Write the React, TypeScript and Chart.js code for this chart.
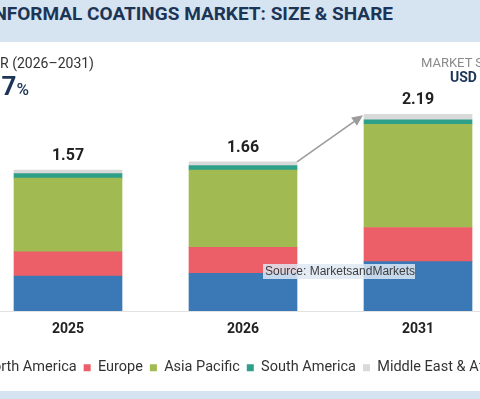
import { useEffect, useRef } from "react";
import { Chart, registerables } from "chart.js";

Chart.register(...registerables);

// Market size by region, USD billion
const years = ["2025", "2026", "2031"];
const regionNames = ["North America", "Europe", "Asia Pacific", "South America", "Middle East & Africa"];
const northAmerica = [0.39, 0.42, 0.55];
const europe = [0.27, 0.29, 0.38];
const asiaPacific = [0.82, 0.86, 1.15];
const southAmerica = [0.05, 0.05, 0.05];
const middleEastAfrica = [0.04, 0.04, 0.06];
const regionColors = ["#3a78b6", "#ec5f68", "#a1bb52", "#2e9f88", "#d9d9d9"];

const cagrText = "5.7";
const FONT = "Roboto, 'Noto Sans', sans-serif";

// Totals above each stack plus the growth arrow between 2026 and 2031
const totalsPlugin = {
  id: "stackTotals",
  afterDatasetsDraw(chart: any) {
    const { ctx } = chart;
    const x = chart.scales.x;
    const y = chart.scales.y;
    const barW = chart.getDatasetMeta(0).data[0].width;
    const totals = years.map((_, i) =>
      chart.data.datasets.reduce((s: number, d: any) => s + d.data[i], 0)
    );
    ctx.save();
    ctx.font = `bold 16px ${FONT}`;
    ctx.fillStyle = "#222222";
    ctx.textAlign = "center";
    ctx.textBaseline = "alphabetic";
    totals.forEach((t: number, i: number) => {
      ctx.fillText(t.toFixed(2), x.getPixelForValue(i), y.getPixelForValue(t) - 10);
    });

    const x0 = x.getPixelForValue(1) + barW / 2;
    const y0 = y.getPixelForValue(totals[1]);
    const x1 = x.getPixelForValue(2) - barW / 2 - 1;
    const y1 = y.getPixelForValue(totals[2]) + 1;
    const ang = Math.atan2(y1 - y0, x1 - x0);
    const head = 11;
    const half = 5;
    const bx = x1 - head * Math.cos(ang);
    const by = y1 - head * Math.sin(ang);
    ctx.strokeStyle = "#9c9c9c";
    ctx.fillStyle = "#9c9c9c";
    ctx.lineWidth = 1.6;
    ctx.beginPath();
    ctx.moveTo(x0, y0);
    ctx.lineTo(bx, by);
    ctx.stroke();
    ctx.beginPath();
    ctx.moveTo(x1, y1);
    ctx.lineTo(bx + half * Math.sin(ang), by - half * Math.cos(ang));
    ctx.lineTo(bx - half * Math.sin(ang), by + half * Math.cos(ang));
    ctx.closePath();
    ctx.fill();
    ctx.restore();
  },
};

function MarketChart() {
  const canvasRef = useRef<HTMLCanvasElement | null>(null);

  useEffect(() => {
    if (!canvasRef.current) return;
    const series = [northAmerica, europe, asiaPacific, southAmerica, middleEastAfrica];
    const chart = new Chart(canvasRef.current, {
      type: "bar",
      data: {
        labels: years,
        datasets: series.map((data, i) => ({
          label: regionNames[i],
          data,
          backgroundColor: regionColors[i],
          borderWidth: 0,
          barThickness: 108,
        })),
      },
      options: {
        animation: false,
        responsive: false,
        maintainAspectRatio: false,
        layout: { padding: { top: 44.5, bottom: 0, left: 0, right: 0 } },
        plugins: {
          legend: {
            position: "bottom",
            labels: {
              boxWidth: 7,
              boxHeight: 7,
              padding: 7,
              color: "#333333",
              font: { family: FONT, size: 14.5 },
            },
          },
          tooltip: { enabled: false },
        },
        scales: {
          x: {
            stacked: true,
            grid: { display: true, drawOnChartArea: false, drawTicks: false },
            border: { display: true, color: "#e2e2e2", width: 1 },
            ticks: {
              color: "#222222",
              padding: 10,
              font: { family: FONT, size: 14, weight: "bold" },
            },
            afterFit: (s: any) => {
              s.height = 42.5;
            },
          },
          y: {
            stacked: true,
            min: 0,
            max: 2.5,
            ticks: { display: false },
            grid: { display: false },
            border: { display: false },
            afterFit: (s: any) => {
              s.width = 92.5;
            },
          },
          yRight: {
            type: "linear",
            position: "right",
            min: 0,
            max: 2.5,
            ticks: { display: false },
            grid: { display: false },
            border: { display: false },
            afterFit: (s: any) => {
              s.width = 82.5;
            },
          },
        },
      } as any,
      plugins: [totalsPlugin],
    });
    return () => chart.destroy();
  }, []);

  return (
    <canvas
      ref={canvasRef}
      width={700}
      height={343}
      style={{ position: "absolute", left: -112, top: 42, width: 700, height: 343 }}
    />
  );
}

export default function App() {
  const navy = "#1c3557";
  return (
    <div
      style={{
        position: "fixed",
        left: 0,
        top: 0,
        width: 480,
        height: 399,
        overflow: "hidden",
        background: "#ffffff",
        fontFamily: FONT,
      }}
    >
      <div style={{ position: "absolute", left: 0, top: 0, width: 480, height: 42, background: "#d6e4f1" }} />
      <div
        style={{
          position: "absolute",
          right: 87,
          top: 4,
          whiteSpace: "nowrap",
          fontSize: 19,
          lineHeight: "19px",
          fontWeight: 700,
          color: navy,
        }}
      >
        CONFORMAL COATINGS MARKET: SIZE &amp; SHARE
      </div>

      <MarketChart />

      <div
        style={{
          position: "absolute",
          right: 386,
          top: 56,
          whiteSpace: "nowrap",
          fontSize: 14,
          lineHeight: "14px",
          color: "#333333",
        }}
      >
        CAGR (2026–2031)
      </div>
      <div
        style={{
          position: "absolute",
          right: 451,
          top: 73,
          whiteSpace: "nowrap",
          fontSize: 26,
          lineHeight: "26px",
          fontWeight: 700,
          color: navy,
        }}
      >
        {cagrText}
        <span style={{ fontSize: 17, fontWeight: 500 }}>%</span>
      </div>

      <div
        style={{
          position: "absolute",
          left: 421,
          top: 56,
          whiteSpace: "nowrap",
          fontSize: 13,
          lineHeight: "13px",
          color: "#8a8a8a",
        }}
      >
        MARKET SIZE
      </div>
      <div
        style={{
          position: "absolute",
          left: 450,
          top: 70,
          whiteSpace: "nowrap",
          fontSize: 14,
          lineHeight: "14px",
          fontWeight: 700,
          color: navy,
        }}
      >
        USD BN
      </div>

      <div
        style={{
          position: "absolute",
          left: 263,
          top: 264,
          width: 150,
          height: 15,
          paddingLeft: 2,
          whiteSpace: "nowrap",
          fontFamily: "'Liberation Sans', Arial, sans-serif",
          fontSize: 12,
          lineHeight: "15px",
          color: "#3d3d3d",
          background: "rgba(222, 232, 243, 0.85)",
        }}
      >
        Source: MarketsandMarkets
      </div>

      <div style={{ position: "absolute", left: 0, top: 391, width: 480, height: 8, background: "#d6e4f1" }} />
    </div>
  );
}
